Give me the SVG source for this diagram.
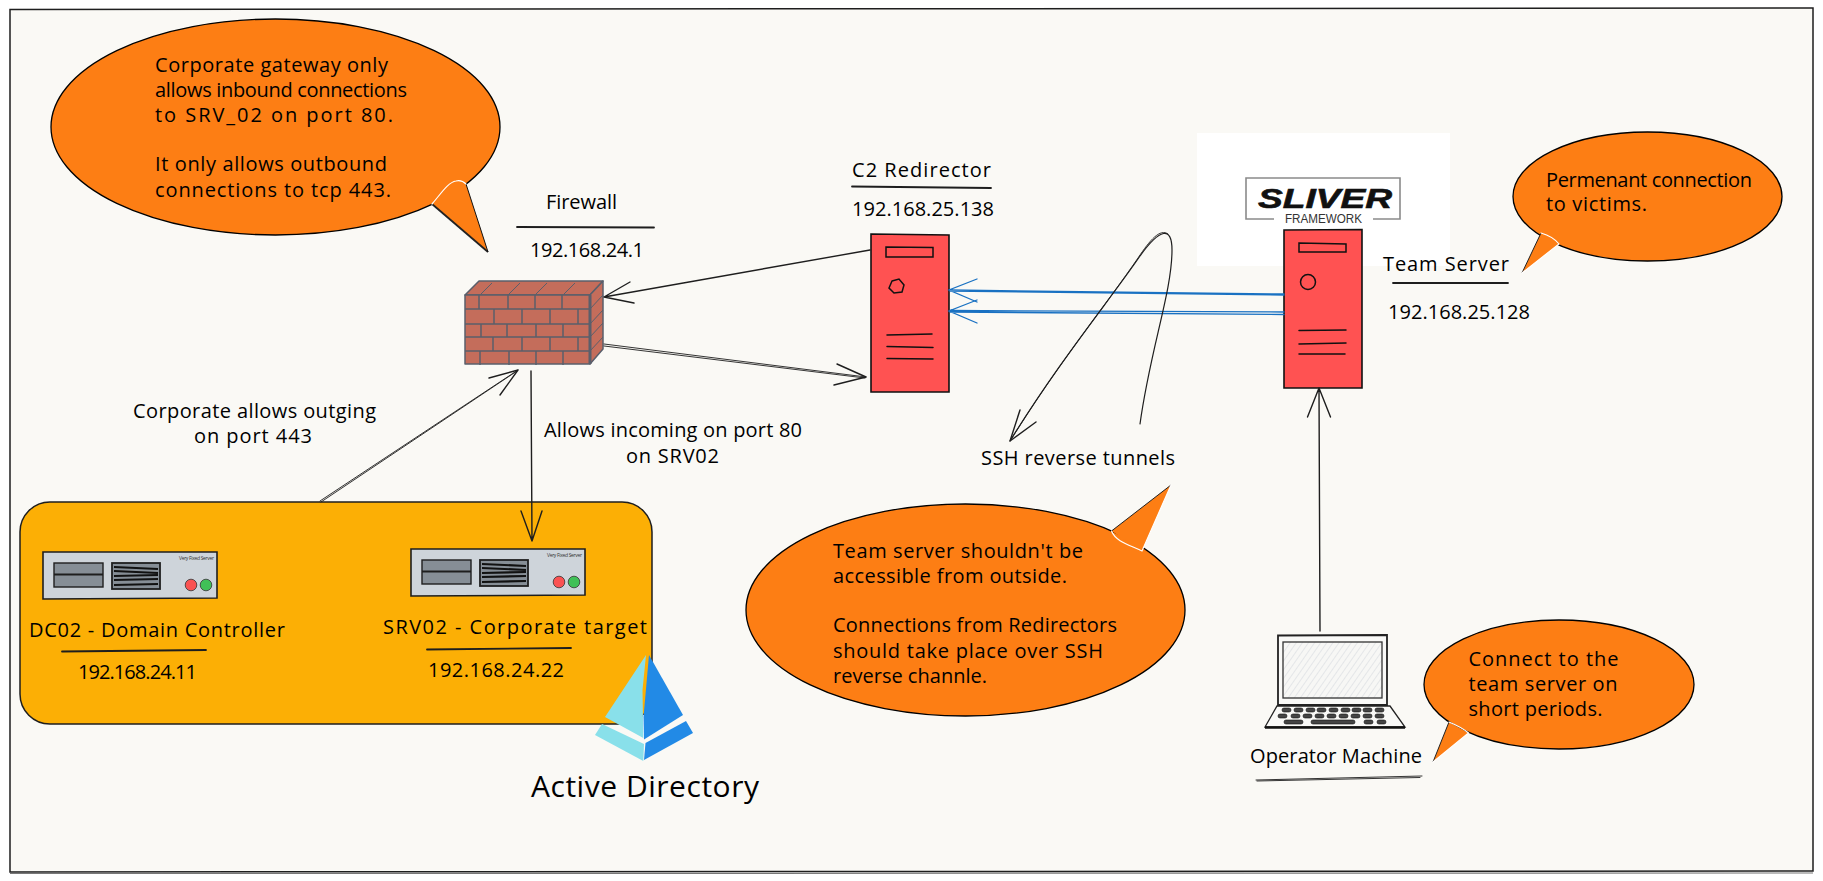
<svg xmlns="http://www.w3.org/2000/svg" width="1823" height="881" viewBox="0 0 1823 881">
<style>
text{font-family:"Open Sans","Liberation Sans",sans-serif;font-size:20px;fill:#000}
.lb{fill:none;stroke:#1e1e1e;stroke-width:1.4;stroke-linecap:round;stroke-linejoin:round}
.th{fill:none;stroke:#1e1e1e;stroke-width:.9;stroke-linecap:round}
.ul{fill:none;stroke:#1e1e1e;stroke-width:1.8;stroke-linecap:round}
.bl{fill:none;stroke:#1971c2;stroke-width:1.3;stroke-linecap:round}
.bub{fill:#fd7e14;stroke:#000;stroke-width:1.3}
.tail{fill:#fd7e14;stroke:none}
.wh{fill:none;stroke:#fff;stroke-width:1.2;stroke-linecap:round}
.red{fill:#ff5252;stroke:#111;stroke-width:1.6}
.in{fill:none;stroke:#111;stroke-width:1.5;stroke-linecap:round}
.brick{fill:#c46d5b;stroke:#5a5f6b;stroke-width:1.5;stroke-linejoin:round}
.bk{fill:none;stroke:#5a5f6b;stroke-width:1.5}
.key{fill:#444;stroke:#111;stroke-width:.6}
</style>
<defs>
<pattern id="hach" width="5" height="5" patternUnits="userSpaceOnUse" patternTransform="rotate(35)"><rect width="5" height="5" fill="#f7f7f5"/><line x1="0" y1="0" x2="0" y2="5" stroke="#dfe2e5" stroke-width="1.6"/></pattern>
<g id="rack">
<path d="M0 0L174 0L174 46L0 47Z" fill="#ced4da" stroke="#1e1e1e" stroke-width="1.6"/>
<rect x="11" y="11" width="49" height="24" fill="#868e96" stroke="#1e1e1e" stroke-width="1.4"/>
<path d="M11 22.500H60" stroke="#1e1e1e" stroke-width="1.8"/>
<rect x="69" y="11" width="48" height="26" fill="#868e96" stroke="#1e1e1e" stroke-width="1.8"/>
<path d="M71 15L115 17M71 19L115 21M71 24L115 23M71 28L115 27M71 33L115 32" stroke="#111" stroke-width="2.200" fill="none"/>
<text x="136" y="8" style="font-size:5px;fill:#333" textLength="35">Very Fixed Server</text>
<circle cx="148" cy="33" r="5.800" fill="#fa5252" stroke="#333" stroke-width=".8"/>
<circle cx="163" cy="33" r="5.800" fill="#40c057" stroke="#333" stroke-width=".8"/>
</g>
</defs>

<g id="frame">
<path d="M10 9.500L1813 8L1813 871L10 872Z" fill="#faf9f5" stroke="#1e1e1e" stroke-width="1.5"/>
<path d="M10 873.500L1813 873" fill="none" stroke="#777" stroke-width="1.2"/>
</g>

<g id="active-directory-group">
<rect x="20" y="502" width="632" height="222" rx="30" ry="30" fill="#fcaf05" stroke="#1e1e1e" stroke-width="1.5"/>
</g>

<g id="logo">
<rect x="1197" y="133" width="253" height="133" fill="#fff"/>
<path d="M1274 219H1246V178H1400V219H1373" fill="none" stroke="#8a8a8a" stroke-width="1.6"/>
<text x="1258" y="208" style="font-family:'Liberation Sans',sans-serif;font-size:27px;font-weight:700;font-style:italic;fill:#111;stroke:#111;stroke-width:.6" textLength="134" lengthAdjust="spacingAndGlyphs">SLIVER</text>
<text x="1285" y="223" style="font-family:'Liberation Sans',sans-serif;font-size:12px;fill:#333" textLength="77" lengthAdjust="spacingAndGlyphs">FRAMEWORK</text>
</g>

<g id="firewall">
<path class="brick" d="M465 295L479 281H603L590 295Z"/>
<path class="brick" d="M590 295L603 281V349L590 364Z"/>
<rect class="brick" x="465" y="295" width="125" height="69"/>
<path class="bk" d="M465 309H590M465 324H590M465 337H590M465 351H590"/>
<path class="bk" d="M479 295V309M508 295V309M535 295V309M562 295V309M494 309V324M522 309V324M550 309V324M578 309V324M481 324V337M507 324V337M536 324V337M563 324V337M493 337V351M522 337V351M550 337V351M578 337V351M480 351V365M509 351V365M536 351V365M563 351V365"/>
<path class="bk" style="stroke-width:1" d="M480 295L492 283M508 295L520 283M535 295L547 283M563 295L575 283M590 309L603 295M590 324L603 310M590 337L603 323M590 351L603 337"/>
<path d="M590 295V364" stroke="#5a5f6b" stroke-width="3"/>
<text x="546" y="209" textLength="71">Firewall</text>
<path class="ul" d="M517 227L654 227.500"/>
<text x="530" y="257" textLength="114">192.168.24.1</text>
</g>

<g id="dc02">
<use href="#rack" x="43" y="552"/>
<text x="29" y="637" textLength="256">DC02 - Domain Controller</text>
<path class="ul" d="M62 651.500L206 650"/>
<text x="78" y="679" textLength="119">192.168.24.11</text>
</g>

<g id="srv02">
<use href="#rack" x="411" y="549"/>
<text x="383" y="634" textLength="264">SRV02 - Corporate target</text>
<path class="ul" d="M427 649.500L571 648"/>
<text x="428" y="677" textLength="136">192.168.24.22</text>
</g>

<g id="ad-icon">
<path d="M643 715L643 738L646 738L646 714Z" fill="#fff"/>
<path d="M646 655L605 717L643.300 738L642.500 690Z" fill="#89e0ea"/>
<path d="M649 655L683 715L644 739.500L643.500 717Z" fill="#228ae6"/>
<path d="M602 724L595 735L643.300 761L644 744Z" fill="#89e0ea"/>
<path d="M686 721L693 733L644 760L645.500 743Z" fill="#228ae6"/>
<text x="531" y="797" style="font-size:30px" textLength="228">Active Directory</text>
</g>

<g id="redirector">
<text x="852" y="177" textLength="139">C2 Redirector</text>
<path class="ul" d="M852 186.500L991 188"/>
<text x="852" y="216" textLength="142">192.168.25.138</text>
<path class="red" d="M871 234L949 235L949 392L871 392Z"/>
<path class="in" d="M886 247L933 247.500V257L886 257Z"/>
<path class="in" d="M892 281L899 279L904 285L902 292L894 293L889 288Z"/>
<path class="in" d="M887 335L932 334M887 346.500L933 347.500M887 358.500L933 359"/>
</g>

<g id="team-server">
<path class="red" d="M1284 230L1362 229.500L1362 388L1284 388Z"/>
<path class="in" d="M1299 243L1346 244V252L1299 252Z"/>
<circle class="in" cx="1308" cy="282" r="7.500"/>
<path class="in" d="M1299 330.500L1346 330M1299 344L1346 343M1299 354L1345 354"/>
<text x="1383" y="271" textLength="126">Team Server</text>
<path class="ul" d="M1393 283L1508 283"/>
<text x="1388" y="319" textLength="142">192.168.25.128</text>
</g>

<g id="operator">
<path d="M1278 635.500L1387 635V705H1278Z" fill="#f9f9f7" stroke="#222" stroke-width="1.800"/>
<rect x="1283" y="642" width="99" height="56" fill="url(#hach)" stroke="#333" stroke-width="1.300"/>
<path d="M1277 706H1390L1405 727H1265Z" fill="#f9f9f7" stroke="#222" stroke-width="1.300"/>
<path d="M1265 727.500H1405" stroke="#111" stroke-width="2.400"/>
<g class="key">
<rect x="1282" y="708" width="9" height="4" rx="2"/><rect x="1294" y="708" width="9" height="4" rx="2"/><rect x="1306" y="708" width="9" height="4" rx="2"/><rect x="1317" y="708" width="9" height="4" rx="2"/><rect x="1329" y="708" width="9" height="4" rx="2"/><rect x="1341" y="708" width="9" height="4" rx="2"/><rect x="1352" y="708" width="9" height="4" rx="2"/><rect x="1363" y="708" width="9" height="4" rx="2"/><rect x="1375" y="708" width="9" height="4" rx="2"/>
<rect x="1278" y="714" width="9" height="4" rx="2"/><rect x="1291" y="714" width="9" height="4" rx="2"/><rect x="1303" y="714" width="9" height="4" rx="2"/><rect x="1315" y="714" width="9" height="4" rx="2"/><rect x="1327" y="714" width="9" height="4" rx="2"/><rect x="1339" y="714" width="9" height="4" rx="2"/><rect x="1351" y="714" width="9" height="4" rx="2"/><rect x="1363" y="714" width="9" height="4" rx="2"/><rect x="1375" y="714" width="9" height="4" rx="2"/>
<rect x="1284" y="720" width="19" height="4" rx="2"/><rect x="1311" y="720" width="44" height="4" rx="2"/><rect x="1364" y="720" width="9" height="4" rx="2"/><rect x="1377" y="720" width="9" height="4" rx="2"/>
</g>
<text x="1250" y="763" textLength="172">Operator Machine</text>
<path class="th" d="M1256 780L1422 776M1257 781L1420 777.500"/>
</g>

<g id="connectors">
<path class="lb" d="M870 250L604 297M630 282L604 297L634 303"/>
<path class="th" d="M604 344L866 377M604 346L865 378"/>
<path class="lb" d="M837 364L866 377L834 385"/>
<path class="th" d="M320 501L518 370M321 502L517 371"/>
<path class="lb" d="M489 378L518 370L500 395"/>
<path class="lb" d="M531 371L532 541M521 511L532 541L542 511"/>
<path class="lb" d="M1320 631L1319 388M1307.500 417L1319 388L1330.500 417"/>
<path class="bl" d="M1284 294L949 290M1284 295L950 291M977 279L949 290L977 302"/>
<path class="bl" d="M1284 312L950 310.500M1284 314.500L950 312M977 300L949 311L977 323"/>
<path class="th" style="stroke-width:1.200" d="M1140 424C1150 350 1172 292 1172 250C1172 226 1160 228 1140 256C1110 300 1060 360 1010 441"/>
<path class="th" d="M1168 234C1160 228 1150 240 1138 258C1108 302 1058 364 1012 438"/>
<path class="lb" d="M1020 410L1010 441L1036 422"/>
</g>

<g id="label-outgoing">
<text x="133" y="418" textLength="243">Corporate allows outging</text>
<text x="194" y="443" textLength="118">on port 443</text>
</g>
<g id="label-incoming">
<text x="544" y="437" textLength="258">Allows incoming on port 80</text>
<text x="626" y="463" textLength="93">on SRV02</text>
</g>
<g id="label-ssh">
<text x="981" y="465" textLength="194">SSH reverse tunnels</text>
</g>

<g id="bubble-gateway">
<ellipse class="bub" cx="275.500" cy="127" rx="224.500" ry="108"/>
<path class="tail" d="M432 204L456 181L466 184L488 252Z"/>
<path d="M432 204L488 252" stroke="#222" stroke-width="1.800"/>
<path d="M466 184L488 252" stroke="#111" stroke-width="1"/>
<path class="wh" d="M432 204C440 195 448 182 456 181C460 180 464 182 466 184"/>
<text x="155" y="72" textLength="233">Corporate gateway only</text>
<text x="155" y="97" textLength="252">allows inbound connections</text>
<text x="155" y="122" textLength="238">to SRV_02 on port 80.</text>
<text x="155" y="171" textLength="232">It only allows outbound</text>
<text x="155" y="197" textLength="236">connections to tcp 443.</text>
</g>

<g id="bubble-team">
<ellipse class="bub" cx="965.500" cy="610" rx="219.500" ry="106"/>
<path class="tail" d="M1111.500 531L1171 485L1142 551Z"/>
<path d="M1111.500 531L1171 485" stroke="#222" stroke-width="1"/>
<path class="wh" d="M1111.500 531C1116 542 1130 545 1142 551L1171 485"/>
<text x="833" y="558" textLength="250">Team server shouldn't be</text>
<text x="833" y="583" textLength="234">accessible from outside.</text>
<text x="833" y="632" textLength="284">Connections from Redirectors</text>
<text x="833" y="658" textLength="270">should take place over SSH</text>
<text x="833" y="683" textLength="154">reverse channle.</text>
</g>

<g id="bubble-permanent">
<ellipse class="bub" cx="1647.500" cy="196.500" rx="134.500" ry="64.500"/>
<path class="tail" d="M1541 233L1559 244L1522 273Z"/>
<path d="M1541 233L1522 273" stroke="#222" stroke-width="1"/>
<path class="wh" d="M1541 233C1548 235 1555 239 1559 244L1522 273"/>
<text x="1546" y="187" textLength="206">Permenant connection</text>
<text x="1546" y="211" textLength="101">to victims.</text>
</g>

<g id="bubble-operator">
<ellipse class="bub" cx="1559" cy="684.500" rx="135" ry="64.500"/>
<path class="tail" d="M1449 722L1468.500 733L1433 762Z"/>
<path d="M1449 722L1433 762" stroke="#222" stroke-width="1"/>
<path class="wh" d="M1449 722C1456 725 1464 729 1468.500 733L1433 762"/>
<text x="1468.500" y="666" textLength="150">Connect to the</text>
<text x="1468.500" y="691" textLength="149">team server on</text>
<text x="1468.500" y="716" textLength="134">short periods.</text>
</g>
</svg>
